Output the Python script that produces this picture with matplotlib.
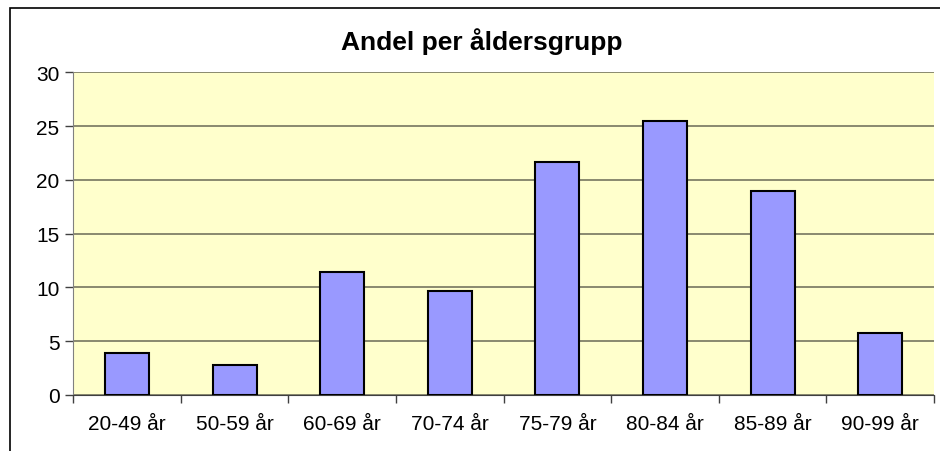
import matplotlib.pyplot as plt
from matplotlib.patches import Rectangle

categories = ["20-49 år", "50-59 år", "60-69 år", "70-74 år",
              "75-79 år", "80-84 år", "85-89 år", "90-99 år"]
values = [3.9, 2.8, 11.4, 9.7, 21.7, 25.5, 19.0, 5.8]
yticks = [0, 5, 10, 15, 20, 25, 30]

plt.rcParams["font.family"] = ["Liberation Sans", "DejaVu Sans"]

fig = plt.figure(figsize=(9.4, 4.52), dpi=100)
fig.patch.set_facecolor("white")

# outer chart border (runs past the right and bottom edge)
fig.patches.append(Rectangle((10 / 940, -0.1), 1.0, 1 - 9 / 452 + 0.1,
                             transform=fig.transFigure, fill=False,
                             edgecolor="#000000", linewidth=1.2))

ax = fig.add_axes([73.3 / 940, 56 / 452, (934 - 73.3) / 940, (396 - 73.3) / 452])
ax.set_facecolor("#FFFFCC")

x = range(len(categories))
ax.bar(x, values, width=0.41, color="#9999FF", edgecolor="black",
       linewidth=1.5, zorder=3)

ax.set_xlim(-0.5, len(categories) - 0.5)
ax.set_ylim(0, 30)
ax.set_yticks(yticks)
ax.yaxis.grid(True, color="#75755F", linewidth=1.2, zorder=1)

ax.set_xticks([i + 0.5 for i in range(-1, len(categories))])
ax.set_xticklabels([])
ax.set_xticks(list(x), minor=True)
ax.set_xticklabels(categories, minor=True)
ax.tick_params(axis="x", which="major", length=6, color="#404040", width=1)
ax.tick_params(axis="x", which="minor", length=0, labelsize=15, pad=14)
ax.tick_params(axis="y", length=6, color="#404040", width=1, labelsize=15, pad=4)

for side in ["top", "right"]:
    ax.spines[side].set_visible(False)
ax.spines["left"].set_color("#808080")
ax.spines["bottom"].set_color("#404040")

fig.text(482 / 940, 1 - 42 / 452, "Andel per åldersgrupp", ha="center",
         va="center", fontsize=19, fontweight="bold")

fig.savefig("out.png", dpi=100)
